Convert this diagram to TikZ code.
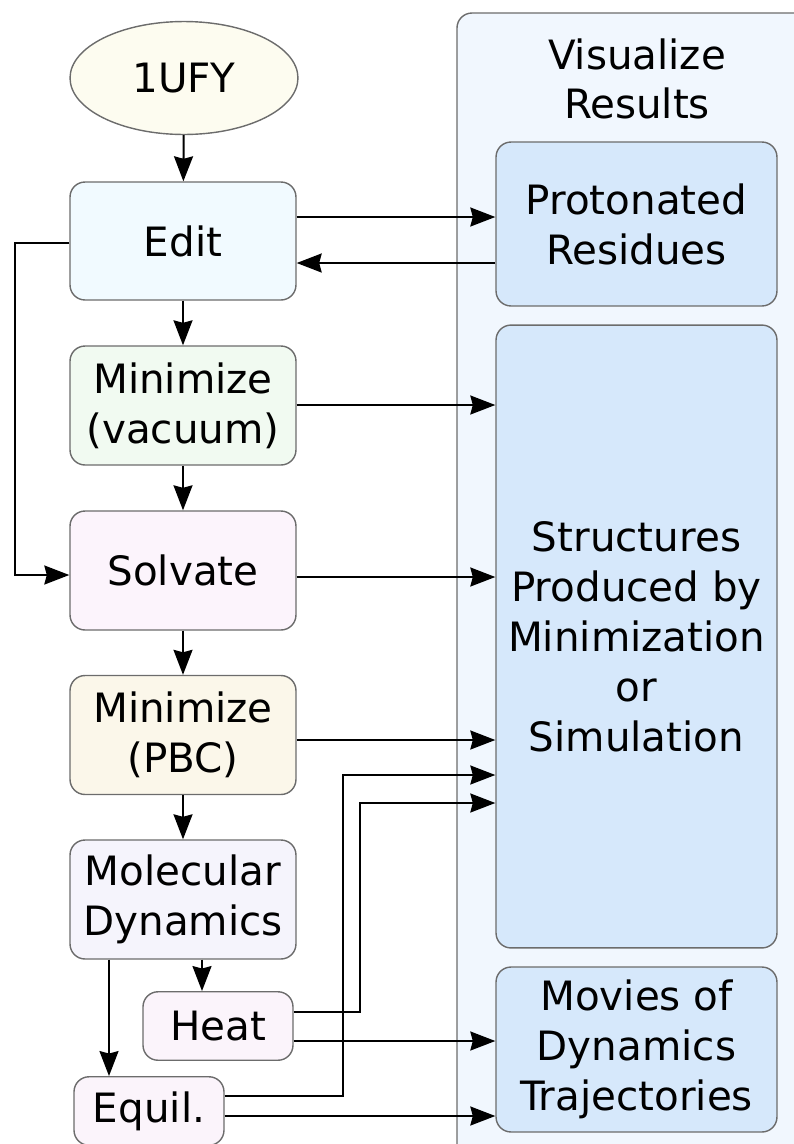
\documentclass[tikz,border=0pt]{standalone}
\usepackage{fontspec}
\setmainfont{DejaVu Sans}
\usepackage{tikz}
\usetikzlibrary{arrows.meta, shapes, positioning}
\definecolor{edge}{HTML}{6C6C6C}
\definecolor{panel}{HTML}{F1F7FE}
\definecolor{output}{HTML}{D6E8FB}
\definecolor{pdbfill}{HTML}{FDFCF0}
\definecolor{editfill}{HTML}{F1FAFF}
\definecolor{vacfill}{HTML}{F1FAF1}
\definecolor{solvfill}{HTML}{FCF4FC}
\definecolor{pbcfill}{HTML}{FBF7EA}
\definecolor{mdfill}{HTML}{F5F4FC}
\definecolor{runfill}{HTML}{FBF4FB}
\tikzstyle{stage} = [draw=edge, line width=0.8pt, rounded corners=0.3cm, align=center,
                     minimum width=4.52cm, minimum height=2.38cm, inner sep=0,
                     font=\fontsize{23}{28.5}\selectfont]
\tikzstyle{short} = [stage, minimum width=3cm, minimum height=1.37cm]
\tikzstyle{result} = [stage, fill=output, minimum width=5.62cm]
\tikzstyle{flow} = [-{Stealth[length=0.5cm, width=0.38cm, inset=0.05cm]}, line width=1.15pt]

\begin{document}
\begin{tikzpicture}[x=0.02cm, y=-0.02cm]
	\useasboundingbox (0, 0) rectangle (794, 1144);
	\clip (0, 0) rectangle (794, 1144);

	% output panel
	\draw [draw=edge, fill=panel, line width=0.8pt, rounded corners=0.3cm] (457, 13) rectangle (840, 1180);
	\node (Title) [align=center, font=\fontsize{23}{27.5}\selectfont] at (637, 79) {Visualize\\Results};
	\node (Protonated) [result, minimum height=3.28cm] at (636.5, 224) {Protonated\\Residues};
	\node (Structures) [result, minimum height=12.46cm] at (636.5, 636.5)
		{Structures\\Produced by\\Minimization\\or\\Simulation};
	\node (Movies) [result, minimum height=3.3cm] at (636.5, 1049.5) {Movies of\\Dynamics\\Trajectories};

	% preparation steps
	\node (UFY) [ellipse, draw=edge, line width=0.8pt, fill=pdbfill, minimum width=4.56cm,
		minimum height=2.26cm, font=\fontsize{23}{28.5}\selectfont] at (184, 78) {1UFY};
	\node (Edit) [stage, fill=editfill, minimum height=2.36cm] at (183, 241) {Edit};
	\node (Vacuum) [stage, fill=vacfill] at (183, 405.5) {Minimize\\(vacuum)};
	\node (Solvate) [stage, fill=solvfill] at (183, 570.5) {Solvate};
	\node (PBC) [stage, fill=pbcfill] at (183, 735) {Minimize\\(PBC)};
	\node (MD) [stage, fill=mdfill] at (183, 899.5) {Molecular\\Dynamics};
	\node (Heat) [short, fill=runfill] at (218, 1026) {Heat};
	\node (Equil) [short, fill=runfill] at (149, 1111) {Equil.};

	% main chain
	\draw [flow] (UFY) -- (Edit);
	\draw [flow] (Edit) -- (Vacuum);
	\draw [flow] (Vacuum) -- (Solvate);
	\draw [flow] (Solvate) -- (PBC);
	\draw [flow] (PBC) -- (MD);
	\draw [flow] (MD.south -| 202, 0) -- (Heat.north -| 202, 0);
	\draw [flow] (MD.south -| 109, 0) -- (Equil.north -| 109, 0);

	% skip the vacuum minimization
	\coordinate (EditSide) at (15, 243);
	\draw [flow] (Edit.west |- EditSide) -- (EditSide) |- (Solvate.west |- 0, 575);

	% protonation states
	\draw [flow] (Edit.east |- 0, 217) -- (Protonated.west |- 0, 217);
	\draw [flow] (Protonated.west |- 0, 263) -- (Edit.east |- 0, 263);

	% structures
	\draw [flow] (Vacuum.east |- 0, 405) -- (Structures.west |- 0, 405);
	\draw [flow] (Solvate.east |- 0, 577) -- (Structures.west |- 0, 577);
	\draw [flow] (PBC.east |- 0, 740) -- (Structures.west |- 0, 740);

	\coordinate (HeatRise) at (360, 1012);
	\draw [flow] (Heat.east |- HeatRise) -- (HeatRise) |- (Structures.west |- 0, 803);
	\coordinate (EquilRise) at (343, 1096);
	\draw [flow] (Equil.east |- EquilRise) -- (EquilRise) |- (Structures.west |- 0, 775);

	% trajectories
	\draw [flow] (Heat.east |- 0, 1041) -- (Movies.west |- 0, 1041);
	\draw [flow] (Equil.east |- 0, 1116) -- (Movies.west |- 0, 1116);
\end{tikzpicture}
\end{document}
